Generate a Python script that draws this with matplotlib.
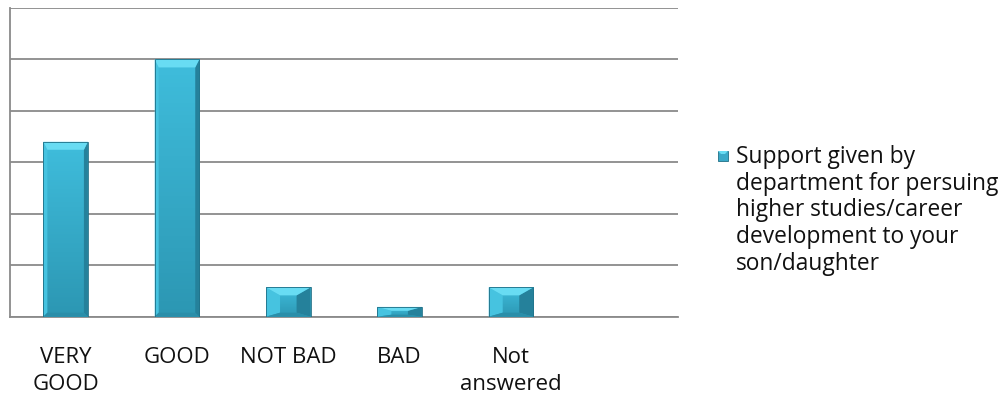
import numpy as np
import matplotlib
matplotlib.use("Agg")
import matplotlib.pyplot as plt
from matplotlib.patches import Polygon, Rectangle
from matplotlib.colors import LinearSegmentedColormap

categories = ["VERY\nGOOD", "GOOD", "NOT BAD", "BAD", "Not\nanswered"]
values = [34.0, 50.0, 5.7, 1.9, 5.7]
series_name = ("Support given by\ndepartment for persuing\nhigher studies/career\n"
               "development to your\nson/daughter")

GRID = "#8a8a8a"
FACE_TOP, FACE_BOT = "#3fbddc", "#2c97b3"
BEVEL_TOP, BEVEL_LEFT, BEVEL_RIGHT, BEVEL_BOT = "#68dcf3", "#46c3e0", "#25819b", "#2a8ea9"

plt.rcParams["font.family"] = ["Open Sans", "DejaVu Sans"]
FS = 16

fig = plt.figure(figsize=(10.08, 3.98), dpi=100)
ax = fig.add_axes([0.0099, 0.2043, 0.6627, 0.7756])
ax.set_xlim(-0.5, 5.5)
ax.set_ylim(0, 60)
ax.set_yticks(np.arange(0, 61, 10))
ax.yaxis.grid(True, color=GRID, lw=1.3)
ax.set_axisbelow(True)
ax.tick_params(length=0, labelleft=False)
for s in ("top", "right"):
    ax.spines[s].set_visible(False)
for s in ("left", "bottom"):
    ax.spines[s].set_color(GRID)
    ax.spines[s].set_linewidth(1.3)

x = np.arange(len(categories))
ax.set_xticks(x)
ax.set_xticklabels(categories, fontsize=FS, color="#111111", linespacing=1.36, va="top")
ax.tick_params(axis="x", pad=22)

width = 0.4
bars = ax.bar(x, values, width=width, color="none", zorder=3)

# pixel -> data unit conversions for bevel sizes
ppx = 668 / 6.0        # px per category
ppy = 308.7 / 60.0     # px per value unit
cmap = LinearSegmentedColormap.from_list("bar", [FACE_TOP, FACE_BOT])
grad = np.linspace(0, 1, 64).reshape(-1, 1)

for rect in bars:
    x0, y0 = rect.get_x(), rect.get_y()
    x1, y1 = x0 + rect.get_width(), y0 + rect.get_height()
    im = ax.imshow(grad, cmap=cmap, aspect="auto", extent=(x0, x1, y0, y1),
                   origin="upper", zorder=3)
    im.set_clip_path(rect)
    h_px = rect.get_height() * ppy
    t = min(8.0, 0.4 * h_px) / ppy
    b = min(4.0, 0.2 * h_px) / ppy
    sw = (4.0 if h_px > 40 else 14.0) / ppx
    facets = [
        ([(x0, y0), (x0, y1), (x0 + sw, y1 - t), (x0 + sw, y0 + b)], BEVEL_LEFT),
        ([(x1, y0), (x1, y1), (x1 - sw, y1 - t), (x1 - sw, y0 + b)], BEVEL_RIGHT),
        ([(x0, y0), (x1, y0), (x1 - sw, y0 + b), (x0 + sw, y0 + b)], BEVEL_BOT),
        ([(x0, y1), (x1, y1), (x1 - sw, y1 - t), (x0 + sw, y1 - t)], BEVEL_TOP),
    ]
    for pts, c in facets:
        ax.add_patch(Polygon(pts, closed=True, facecolor=c, edgecolor="none", zorder=4))
    ax.add_patch(Rectangle((x0, y0), x1 - x0, y1 - y0, facecolor="none",
                           edgecolor="#1f6f86", lw=0.6, zorder=5))

# legend entry
lx, ly = 718 / 1008, 1 - 161 / 398
fig.patches.append(Rectangle((lx, ly), 10 / 1008, 10 / 398, transform=fig.transFigure,
                             facecolor="#3aa9c8", edgecolor="#1f6f86", lw=0.6))
fig.patches.append(Polygon([(lx, ly + 10 / 398), (lx + 10 / 1008, ly + 10 / 398),
                            (lx + 7 / 1008, ly + 7 / 398), (lx + 3 / 1008, ly + 7 / 398)],
                           closed=True, transform=fig.transFigure, facecolor="#68dcf3",
                           edgecolor="none"))
fig.text(736 / 1008, 1 - 145 / 398, series_name, fontsize=16.4, color="#111111",
         va="top", ha="left", linespacing=1.15)

fig.savefig("out.png", dpi=100, facecolor="white")
